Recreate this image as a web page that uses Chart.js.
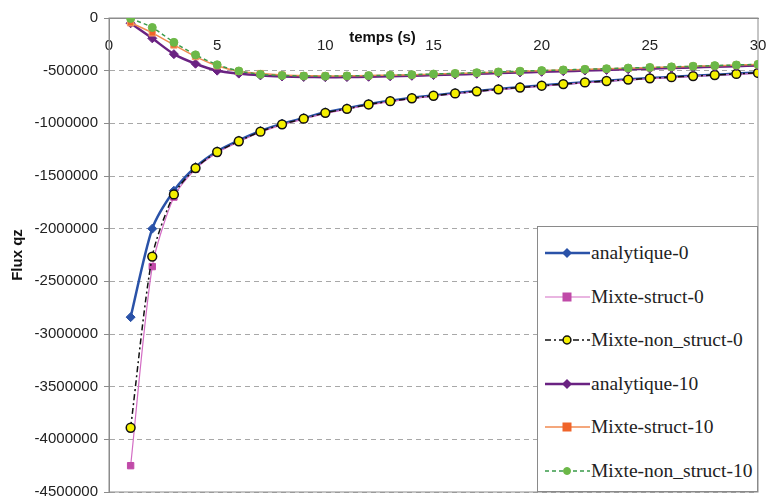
<!DOCTYPE html>
<html>
<head>
<meta charset="utf-8">
<script src="https://cdn.jsdelivr.net/npm/chart.js@4/dist/chart.umd.min.js"></script>
<style>
  html, body { margin: 0; padding: 0; background: #fff; }
  #wrap { position: relative; width: 766px; height: 499px; }
  #legende {
    position: absolute; left: 537px; top: 226px; width: 221px; height: 266px;
    border: 1px solid #8a8a8a; background: #fff; box-sizing: border-box;
    font-family: "Liberation Serif", "DejaVu Serif", serif; font-size: 19.5px; color: #222;
  }
  #legende .item { position: absolute; left: 7px; height: 20px; display: flex; align-items: center; white-space: nowrap; }
</style>
</head>
<body>
<div id="wrap">
  <canvas id="fluxChart" width="766" height="499"></canvas>
  <div id="legende"></div>
</div>
<script>
// temps en secondes
const temps = [1, 2, 3, 4, 5, 6, 7, 8, 9, 10, 11, 12, 13, 14, 15, 16, 17, 18, 19, 20, 21, 22, 23, 24, 25, 26, 27, 28, 29, 30];

const analytique0 = [-2840000, -2000000, -1640000, -1415000, -1265000, -1162000, -1073000, -1003000, -950000, -895000,
  -857000, -817000, -786000, -758000, -735000, -713000, -693000, -674000, -657000, -640000,
  -624000, -609000, -595000, -582000, -570000, -559000, -548000, -538000, -528000, -518000];
const mixteStruct0 = [-4250000, -2360000, -1700000, -1435000, -1280000, -1176000, -1085000, -1014000, -960000, -905000,
  -866000, -825000, -794000, -766000, -742000, -720000, -700000, -681000, -664000, -647000,
  -631000, -616000, -602000, -589000, -577000, -566000, -555000, -545000, -535000, -525000];
const mixteNonStruct0 = [-3890000, -2265000, -1675000, -1425000, -1272000, -1170000, -1079000, -1009000, -956000, -900000,
  -862000, -821000, -790000, -762000, -738000, -716000, -696000, -677000, -660000, -643000,
  -627000, -612000, -598000, -585000, -573000, -562000, -551000, -541000, -531000, -521000];
const analytique10 = [-50000, -193000, -343000, -434000, -500000, -528000, -545000, -555000, -560000, -562000,
  -561000, -558000, -554000, -549000, -542000, -536000, -530000, -523000, -517000, -511000,
  -505000, -499000, -493000, -487000, -481000, -475000, -469000, -463000, -457000, -450000];
const mixteStruct10 = [-45000, -141000, -256000, -366000, -453000, -506000, -528000, -542000, -548000, -550000,
  -549000, -546000, -543000, -538000, -533000, -527000, -520000, -513000, -507000, -500000,
  -494000, -488000, -482000, -477000, -471000, -465000, -459000, -453000, -447000, -441000];
const mixteNonStruct10 = [-5000, -90000, -231000, -350000, -444000, -503000, -535000, -546000, -551000, -552000,
  -550000, -547000, -543000, -538000, -532000, -526000, -519000, -512000, -505000, -499000,
  -493000, -487000, -481000, -475000, -469000, -464000, -458000, -452000, -446000, -440000];

const nomsSeries = ["analytique-0", "Mixte-struct-0", "Mixte-non_struct-0", "analytique-10", "Mixte-struct-10", "Mixte-non_struct-10"];
const valeursSeries = [analytique0, mixteStruct0, mixteNonStruct0, analytique10, mixteStruct10, mixteNonStruct10];

// style de chaque courbe (ligne, marqueur)
const styles = [
  { ligne: '#2a52a8', largeur: 2.5, tirets: [],          forme: 'rectRot', rayon: 4.5, fond: '#2a52a8', bord: '#2a52a8', bordL: 1 },
  { ligne: '#d36cc4', largeur: 1.2, tirets: [],          forme: 'rect',    rayon: 4.5, fond: '#c04aa8', bord: '#c04aa8', bordL: 1 },
  { ligne: '#111111', largeur: 1.5, tirets: [6, 3, 2, 3], forme: 'circle', rayon: 4.4, fond: '#f5f000', bord: '#111111', bordL: 1.5 },
  { ligne: '#6a2282', largeur: 2.5, tirets: [],          forme: 'rectRot', rayon: 4.5, fond: '#6a2282', bord: '#6a2282', bordL: 1 },
  { ligne: '#f08a50', largeur: 1.5, tirets: [],          forme: 'rect',    rayon: 4.5, fond: '#f0642a', bord: '#f3a070', bordL: 1 },
  { ligne: '#3a9a4a', largeur: 1.5, tirets: [4, 3],      forme: 'circle',  rayon: 4,   fond: '#6cb848', bord: '#6cb848', bordL: 1 }
];

const datasets = nomsSeries.map((nom, i) => ({
  label: nom,
  data: temps.map((t, j) => ({ x: t, y: valeursSeries[i][j] })),
  borderColor: styles[i].ligne,
  borderWidth: styles[i].largeur,
  borderDash: styles[i].tirets,
  pointStyle: styles[i].forme,
  pointRadius: styles[i].rayon,
  pointBackgroundColor: styles[i].fond,
  pointBorderColor: styles[i].bord,
  pointBorderWidth: styles[i].bordL,
  tension: 0.25,
  fill: false,
  order: nomsSeries.length - i // les dernières séries passent au-dessus
}));

// cadre autour de la zone de tracé + titre de l'axe des temps
const cadre = {
  id: 'cadre',
  beforeDatasetsDraw(chart) {
    const { ctx, chartArea: a } = chart;
    ctx.save();
    ctx.strokeStyle = '#8c8c8c';
    ctx.lineWidth = 1;
    ctx.strokeRect(a.left, a.top, a.right - a.left, a.bottom - a.top);
    ctx.restore();
  },
  afterDraw(chart) {
    const { ctx, scales } = chart;
    ctx.save();
    ctx.font = 'bold 15px "Liberation Sans", Arial, sans-serif';
    ctx.fillStyle = '#111';
    ctx.textBaseline = 'middle';
    ctx.fillText('temps (s)', scales.x.getPixelForValue(11.1), scales.y.getPixelForValue(-185000));
    ctx.restore();
  }
};

const police = { family: '"Liberation Sans", Arial, sans-serif', size: 15 };

new Chart(document.getElementById('fluxChart'), {
  type: 'line',
  data: { datasets },
  plugins: [cadre],
  options: {
    responsive: false,
    animation: false,
    layout: { padding: { top: 18, right: 8, bottom: 7, left: 0 } },
    plugins: { legend: { display: false }, tooltip: { enabled: false } },
    scales: {
      x: {
        type: 'linear',
        position: { y: 0 },
        min: 0, max: 30,
        afterFit: s => { s.paddingLeft = 0; s.paddingRight = 0; },
        grid: { display: false },
        border: { display: true, color: '#8c8c8c', width: 1 },
        ticks: { stepSize: 5, padding: 11, color: '#222', font: police, callback: v => String(v) }
      },
      y: {
        type: 'linear',
        min: -4500000, max: 0,
        afterFit: s => { s.width = 109; s.paddingTop = 0; s.paddingBottom = 0; },
        grid: { color: '#a8a8a8', lineWidth: 1, tickLength: 5, tickColor: '#8c8c8c', tickBorderDash: [] },
        border: { display: true, color: '#8c8c8c', width: 1, dash: [5, 4] },
        ticks: { stepSize: 500000, padding: 6, color: '#222', font: police, callback: v => String(v) },
        title: { display: true, text: 'Flux qz', color: '#111', padding: { top: 9, bottom: 0 },
          font: { family: police.family, size: 15, weight: 'bold' } }
      }
    }
  }
});

// légende HTML dans le coin bas droit
const legende = document.getElementById('legende');
nomsSeries.forEach((nom, i) => {
  const s = styles[i];
  let marque;
  if (s.forme === 'rectRot') {
    marque = `<polygon points="22,5 27,10 22,15 17,10" fill="${s.fond}"/>`;
  } else if (s.forme === 'rect') {
    marque = `<rect x="17.5" y="5.5" width="9" height="9" fill="${s.fond}"/>`;
  } else {
    marque = `<circle cx="22" cy="10" r="${s.rayon - 0.5}" fill="${s.fond}" stroke="${s.bord}" stroke-width="${s.bordL}"/>`;
  }
  const dash = s.tirets.length ? `stroke-dasharray="${s.tirets.join(',')}"` : '';
  const item = document.createElement('div');
  item.className = 'item';
  item.style.top = (16 + i * 43.6) + 'px';
  item.innerHTML = `<svg width="46" height="20"><line x1="0" y1="10" x2="45" y2="10" stroke="${s.ligne}" stroke-width="${s.largeur}" ${dash}/>${marque}</svg><span>${nom}</span>`;
  legende.appendChild(item);
});
</script>
</body>
</html>
